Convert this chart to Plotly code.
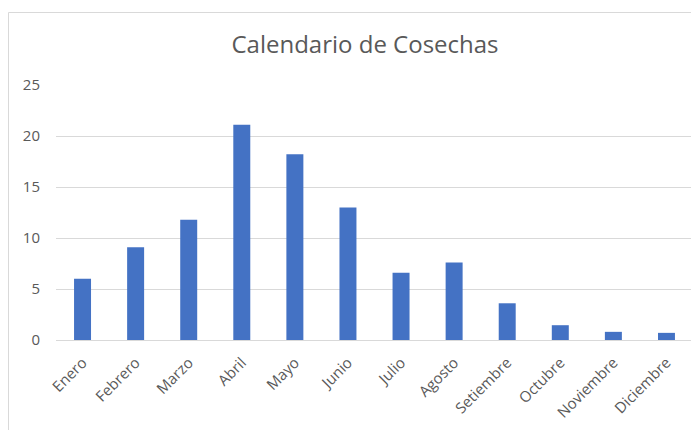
import plotly.graph_objects as go

meses = ["Enero", "Febrero", "Marzo", "Abril", "Mayo", "Junio", "Julio",
         "Agosto", "Setiembre", "Octubre", "Noviembre", "Diciembre"]
cosechas = [6.0, 9.1, 11.8, 21.1, 18.2, 13.0, 6.6, 7.6, 3.6, 1.45, 0.8, 0.7]
y_ticks = [0, 5, 10, 15, 20, 25]
titulo = "Calendario de Cosechas"

# the page body has an 8px default margin, so the figure is drawn 8px in
W, H = 691, 422
ml, mr, mt, mb = 48, 6, 77, 90
pw, ph = W - ml - mr, H - mt - mb

fig = go.Figure(go.Bar(x=meses, y=cosechas, marker=dict(color="#4472C4", line=dict(width=0))))

fig.update_layout(
    width=W, height=H,
    margin=dict(l=ml, r=mr, t=mt, b=mb, autoexpand=False),
    paper_bgcolor="white", plot_bgcolor="white",
    bargap=0.68,
    font=dict(family="Open Sans", color="#595959", size=15),
    title=dict(text=titulo, x=357 / W, xref="container", xanchor="center",
               y=1 - 37 / H, yref="container", yanchor="middle",
               font=dict(family="Open Sans", size=24, color="#595959")),
    showlegend=False,
    xaxis=dict(tickangle=-45, showgrid=False, showline=True, linecolor="#D9D9D9",
               linewidth=1, ticks="", automargin=False, ticklabelstandoff=7,
               tickfont=dict(size=15, color="#595959")),
    yaxis=dict(range=[0, 25], tickvals=y_ticks, showgrid=True, gridcolor="#D9D9D9",
               gridwidth=1, zeroline=False, showline=False, ticks="", automargin=False,
               ticklabelstandoff=15, tickfont=dict(size=15, color="#595959")),
    shapes=[dict(type="rect", xref="paper", yref="paper",
                 x0=(0.5 - ml) / pw, x1=(W + 20 - ml) / pw,
                 y0=(H - mb - (H + 20)) / ph, y1=(H - mb - 4.5) / ph,
                 line=dict(color="#D9D9D9", width=1), fillcolor="rgba(0,0,0,0)",
                 layer="below")],
)

fig.write_html("out.html")
